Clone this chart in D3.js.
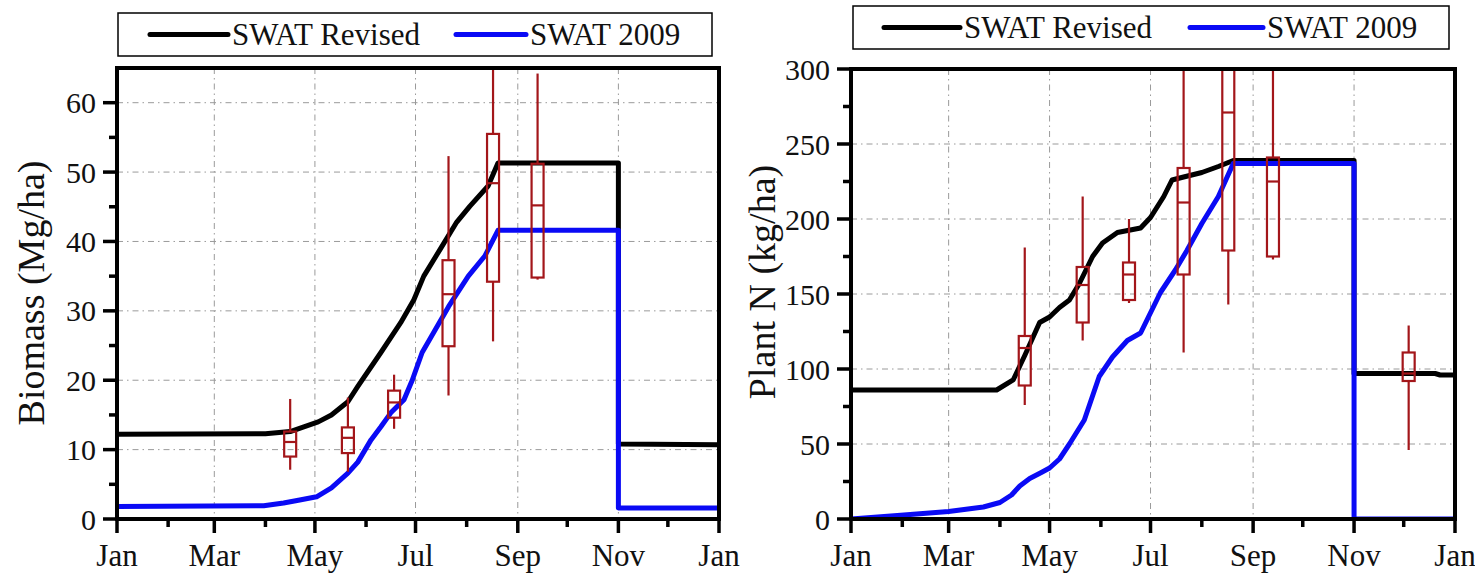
<!DOCTYPE html>
<html>
<head>
<meta charset="utf-8">
<script src="https://cdn.jsdelivr.net/npm/d3@7"></script>
<style>
  body { margin: 0; background: #fff; }
</style>
</head>
<body>
<svg id="chart" width="1475" height="574" font-family="Liberation Serif, DejaVu Serif, serif"></svg>
<script>
// ---- data (day of year, 0 = Jan 1) ----
// biomass, SWAT Revised
const bioRevDay = [0, 90, 105, 122, 130, 140, 146, 160, 172, 180, 186, 196, 206, 214, 225, 231, 304, 304, 365];
const bioRevVal = [12.2, 12.3, 12.6, 14.0, 15.0, 16.9, 19.1, 24.0, 28.3, 31.6, 35.0, 38.9, 42.8, 45.1, 48.0, 51.3, 51.3, 10.8, 10.7];
// biomass, SWAT 2009
const bio09Day = [0, 89, 101, 110, 121, 130, 140, 146, 154, 160, 166, 174, 179, 185, 201, 213, 223, 231, 304, 304, 365];
const bio09Val = [1.8, 1.9, 2.3, 2.7, 3.2, 4.5, 6.6, 8.2, 11.4, 13.3, 15.3, 17.2, 20.0, 24.0, 30.6, 35.0, 37.9, 41.6, 41.6, 1.6, 1.6];

// plant N, SWAT Revised
const nRevDay = [0, 88, 98, 105, 114, 120, 126, 132, 138, 146, 152, 161, 175, 181, 189, 194, 201, 212, 222, 231, 304, 304, 353, 356, 365];
const nRevVal = [86, 86, 92.7, 109, 131, 134.7, 141, 146, 157, 175, 184, 191, 194, 201, 215, 226, 228, 231, 235, 239, 239, 97, 97, 96, 96];
// plant N, SWAT 2009
const n09Day = [0, 30, 59, 80, 90, 97, 102, 108, 115, 120, 126, 132, 141, 150, 158, 167, 175, 187, 196, 203, 212, 222, 231, 304, 304, 365];
const n09Val = [0, 2.5, 5, 8, 11, 16, 22, 27, 31, 34, 40, 50, 66, 95, 108, 119, 124, 151, 166, 179, 197, 215, 237, 237, 0, 0];

// observed samples (box plots)
const bioObsDay = [105, 140, 168, 201, 228, 255];
const bioLow  = [7.1, 6.8, 13.0, 17.8, 25.6, 34.5];
const bioQ1   = [9.0, 9.5, 14.6, 24.9, 34.2, 34.8];
const bioMed  = [11.1, 11.7, 16.8, 32.4, 48.4, 45.2];
const bioQ3   = [12.6, 13.2, 18.5, 37.3, 55.5, 51.2];
const bioHigh = [17.3, 17.5, 20.8, 52.3, 66.0, 64.2];

const nObsDay = [105, 140, 168, 201, 228, 255, 337];
const nLow  = [76, 119, 144, 111, 143, 173, 46];
const nQ1   = [89, 131, 146, 163, 179, 175, 92];
const nMed  = [114, 156, 163, 211, 271, 225, 97];
const nQ3   = [122, 168, 171, 234, 310, 241, 111];
const nHigh = [181, 215, 200, 320, 330, 320, 129];

const seriesNames = ["SWAT Revised", "SWAT 2009"];
const seriesColors = ["#000000", "#0a0af5"];
const boxColor = "#a3161a";
const FONT = "Liberation Serif, DejaVu Serif, serif";

const year0 = new Date(2009, 0, 1);
const toDate = d => d3.timeDay.offset(year0, d);

const svg = d3.select("#chart");

function drawPanel(p) {
    const x = d3.scaleTime()
        .domain([year0, new Date(2010, 0, 1)])
        .range([p.x0, p.x1]);
    const y = d3.scaleLinear()
        .domain([0, p.yMax])
        .range([p.yBottom, p.yTop]);

    const g = svg.append("g");
    const clipId = "clip-" + p.id;
    svg.append("clipPath").attr("id", clipId)
        .append("rect")
        .attr("x", p.x0).attr("y", p.yTop)
        .attr("width", p.x1 - p.x0).attr("height", p.yBottom - p.yTop);

    // grid
    const majorX = d3.timeMonth.every(2).range(year0, new Date(2010, 0, 2));
    const minorX = d3.timeMonth.every(1).range(year0, new Date(2010, 0, 2));
    const majorY = d3.range(0, p.yMax + 0.1, p.yStep);
    const minorY = d3.range(p.yStep / 2, p.yMax, p.yStep);

    g.append("g").selectAll("line")
        .data(majorX.slice(1, -1))
        .join("line")
        .attr("x1", d => x(d)).attr("x2", d => x(d))
        .attr("y1", p.yTop).attr("y2", p.yBottom)
        .attr("stroke", "#9a9a9a").attr("stroke-width", 1)
        .attr("stroke-dasharray", "6,4,1.5,4");
    g.append("g").selectAll("line")
        .data(majorY.filter(v => v > 0 && v < p.yMax))
        .join("line")
        .attr("x1", p.x0).attr("x2", p.x1)
        .attr("y1", d => y(d)).attr("y2", d => y(d))
        .attr("stroke", "#9a9a9a").attr("stroke-width", 1)
        .attr("stroke-dasharray", "6,4,1.5,4");

    // model lines
    const line = d3.line()
        .x(d => x(toDate(d[0])))
        .y(d => y(d[1]));
    const plot = g.append("g").attr("clip-path", `url(#${clipId})`);
    p.series.forEach((s, i) => {
        plot.append("path")
            .datum(s.day.map((d, k) => [d, s.val[k]]))
            .attr("d", line)
            .attr("fill", "none")
            .attr("stroke", seriesColors[i])
            .attr("stroke-width", 5)
            .attr("stroke-linejoin", "round");
    });

    // observed box plots
    const boxW = 12;
    const boxes = plot.selectAll("g.box")
        .data(p.obs.day.map((d, k) => ({
            day: d, low: p.obs.low[k], q1: p.obs.q1[k], med: p.obs.med[k],
            q3: p.obs.q3[k], high: p.obs.high[k]
        })))
        .join("g").attr("class", "box");
    boxes.append("line")
        .attr("x1", d => x(toDate(d.day))).attr("x2", d => x(toDate(d.day)))
        .attr("y1", d => y(d.high)).attr("y2", d => y(d.q3));
    boxes.append("line")
        .attr("x1", d => x(toDate(d.day))).attr("x2", d => x(toDate(d.day)))
        .attr("y1", d => y(d.q1)).attr("y2", d => y(d.low));
    boxes.append("rect")
        .attr("x", d => x(toDate(d.day)) - boxW / 2)
        .attr("y", d => y(d.q3))
        .attr("width", boxW)
        .attr("height", d => y(d.q1) - y(d.q3))
        .attr("fill", "none");
    boxes.append("line")
        .attr("x1", d => x(toDate(d.day)) - boxW / 2).attr("x2", d => x(toDate(d.day)) + boxW / 2)
        .attr("y1", d => y(d.med)).attr("y2", d => y(d.med));
    boxes.selectAll("line, rect")
        .attr("stroke", boxColor).attr("stroke-width", 2.2);

    // frame
    g.append("rect")
        .attr("x", p.x0).attr("y", p.yTop)
        .attr("width", p.x1 - p.x0).attr("height", p.yBottom - p.yTop)
        .attr("fill", "none").attr("stroke", "#000").attr("stroke-width", 4);

    // x axis ticks
    const xAxis = g.append("g").attr("transform", `translate(0,${p.yBottom})`);
    xAxis.selectAll("line.minor")
        .data(minorX)
        .join("line")
        .attr("x1", d => x(d)).attr("x2", d => x(d))
        .attr("y1", 0).attr("y2", d => d.getMonth() % 2 === 0 ? 14 : 8)
        .attr("stroke", "#000").attr("stroke-width", 3.5);
    xAxis.selectAll("text")
        .data(majorX)
        .join("text")
        .attr("x", d => x(d))
        .attr("y", 47)
        .attr("text-anchor", "middle")
        .attr("font-family", FONT)
        .attr("font-size", 31)
        .attr("fill", "#111")
        .text(d3.timeFormat("%b"));

    // y axis ticks
    const yAxis = g.append("g").attr("transform", `translate(${p.x0},0)`);
    yAxis.selectAll("line.major")
        .data(majorY)
        .join("line")
        .attr("x1", -14).attr("x2", 0)
        .attr("y1", d => y(d)).attr("y2", d => y(d))
        .attr("stroke", "#000").attr("stroke-width", 3.5);
    yAxis.selectAll("line.minorTick")
        .data(minorY)
        .enter().append("line")
        .attr("x1", -8).attr("x2", 0)
        .attr("y1", d => y(d)).attr("y2", d => y(d))
        .attr("stroke", "#000").attr("stroke-width", 3.5);
    yAxis.selectAll("text")
        .data(majorY)
        .join("text")
        .attr("x", -21)
        .attr("y", d => y(d))
        .attr("dy", "0.35em")
        .attr("text-anchor", "end")
        .attr("font-family", FONT)
        .attr("font-size", 30)
        .attr("fill", "#111")
        .text(d => d);

    // y title
    g.append("text")
        .attr("transform", `translate(${p.titleX},${p.titleY}) rotate(-90)`)
        .attr("text-anchor", "middle")
        .attr("font-family", FONT)
        .attr("font-size", 38)
        .attr("fill", "#111")
        .text(p.title);

    // legend
    const lg = g.append("g");
    lg.append("rect")
        .attr("x", p.legX0).attr("y", p.legY0)
        .attr("width", p.legX1 - p.legX0).attr("height", p.legH)
        .attr("fill", "#fff").attr("stroke", "#000").attr("stroke-width", 1.5);
    const ly = p.legY0 + p.legH / 2;
    p.legItems.forEach((it, i) => {
        lg.append("line")
            .attr("x1", it[0]).attr("x2", it[1])
            .attr("y1", ly).attr("y2", ly)
            .attr("stroke", seriesColors[i]).attr("stroke-width", 5)
            .attr("stroke-linecap", "round");
        lg.append("text")
            .attr("x", it[1] + 4)
            .attr("y", ly + 10)
            .attr("font-family", FONT)
            .attr("font-size", 31)
            .attr("fill", "#111")
            .text(seriesNames[i]);
    });
}

// left: biomass
drawPanel({
    id: "bio",
    x0: 117, x1: 719, yTop: 68, yBottom: 519,
    yMax: 65, yStep: 10,
    title: "Biomass (Mg/ha)", titleX: 44, titleY: 293,
    series: [{day: bioRevDay, val: bioRevVal}, {day: bio09Day, val: bio09Val}],
    obs: {day: bioObsDay, low: bioLow, q1: bioQ1, med: bioMed, q3: bioQ3, high: bioHigh},
    legX0: 118, legX1: 712, legY0: 13, legH: 43,
    legItems: [[150, 228], [456, 526]]
});

// right: plant N
drawPanel({
    id: "n",
    x0: 851, x1: 1455, yTop: 69, yBottom: 519,
    yMax: 300, yStep: 50,
    title: "Plant N (kg/ha)", titleX: 775, titleY: 282,
    series: [{day: nRevDay, val: nRevVal}, {day: n09Day, val: n09Val}],
    obs: {day: nObsDay, low: nLow, q1: nQ1, med: nMed, q3: nQ3, high: nHigh},
    legX0: 853, legX1: 1449, legY0: 6, legH: 43,
    legItems: [[884, 960], [1190, 1263]]
});
</script>
</body>
</html>
